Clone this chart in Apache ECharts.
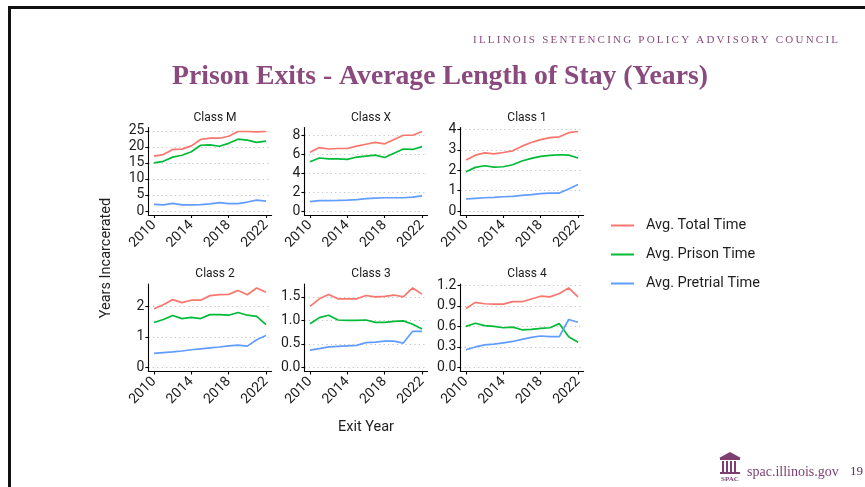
<!DOCTYPE html>
<html><head><meta charset="utf-8">
<script src="https://cdn.jsdelivr.net/npm/echarts@6/dist/echarts.min.js"></script>
<style>html,body{margin:0;padding:0;background:#fff}#c{width:865px;height:487px}</style>
</head><body><div id="c"></div>
<script>
// ---------- data ----------
const years = [2010,2011,2012,2013,2014,2015,2016,2017,2018,2019,2020,2021,2022];
const panelNames = ['Class M','Class X','Class 1','Class 2','Class 3','Class 4'];
const seriesNames = ['Avg. Total Time','Avg. Prison Time','Avg. Pretrial Time'];
const xTicks = [2010,2014,2018,2022];

const classM_total    = [17.1,17.6,19.2,19.3,20.3,22.3,22.7,22.7,23.3,24.8,24.8,24.7,24.8];
const classM_prison   = [15.0,15.5,16.8,17.4,18.5,20.5,20.6,20.2,21.1,22.4,22.1,21.4,21.8];
const classM_pretrial = [2.1,1.9,2.4,1.9,1.9,2.0,2.2,2.6,2.3,2.3,2.8,3.4,3.1];

const classX_total    = [6.2,6.7,6.55,6.6,6.6,6.85,7.05,7.25,7.1,7.55,8.0,8.0,8.4];
const classX_prison   = [5.2,5.6,5.5,5.5,5.45,5.7,5.8,5.9,5.65,6.1,6.55,6.5,6.8];
const classX_pretrial = [1.0,1.1,1.1,1.12,1.15,1.2,1.3,1.37,1.4,1.4,1.4,1.47,1.6];

const class1_total    = [2.5,2.74,2.85,2.8,2.87,2.95,3.18,3.36,3.5,3.6,3.64,3.84,3.9];
const class1_prison   = [1.93,2.14,2.22,2.15,2.17,2.27,2.45,2.58,2.68,2.73,2.76,2.74,2.6];
const class1_pretrial = [0.59,0.62,0.65,0.67,0.70,0.72,0.77,0.80,0.85,0.88,0.88,1.08,1.3];

const class2_total    = [1.92,2.05,2.22,2.12,2.2,2.2,2.35,2.38,2.39,2.52,2.38,2.6,2.46];
const class2_prison   = [1.47,1.57,1.7,1.6,1.64,1.6,1.73,1.73,1.71,1.8,1.71,1.67,1.4];
const class2_pretrial = [0.46,0.49,0.51,0.54,0.58,0.61,0.64,0.67,0.71,0.73,0.70,0.91,1.05];

const class3_total    = [1.3,1.46,1.55,1.46,1.46,1.46,1.53,1.5,1.51,1.54,1.5,1.69,1.56];
const class3_prison   = [0.93,1.06,1.11,1.01,1.0,1.0,1.01,0.96,0.96,0.98,0.99,0.92,0.82];
const class3_pretrial = [0.37,0.4,0.44,0.45,0.46,0.47,0.53,0.54,0.56,0.56,0.52,0.77,0.77];

const class4_total    = [0.86,0.95,0.93,0.925,0.925,0.96,0.96,1.0,1.04,1.03,1.08,1.16,1.03];
const class4_prison   = [0.6,0.645,0.61,0.6,0.58,0.59,0.55,0.555,0.57,0.58,0.64,0.45,0.37];
const class4_pretrial = [0.26,0.3,0.33,0.34,0.36,0.38,0.41,0.44,0.46,0.45,0.45,0.70,0.66];

const yTicksM = [0,5,10,15,20,25];
const yTicksX = [0,2,4,6,8];
const yTicks1 = [0,1,2,3,4];
const yTicks2 = [0,1,2];
const yTicks3 = [0,0.5,1.0,1.5];
const yTicks4 = [0,0.3,0.6,0.9,1.2];
const yDecimals = [0,0,0,0,1,1];

// ---------- assembly ----------
const panelData = [
  [classM_total, classM_prison, classM_pretrial],
  [classX_total, classX_prison, classX_pretrial],
  [class1_total, class1_prison, class1_pretrial],
  [class2_total, class2_prison, class2_pretrial],
  [class3_total, class3_prison, class3_pretrial],
  [class4_total, class4_prison, class4_pretrial]
];
const panelTicks = [yTicksM, yTicksX, yTicks1, yTicks2, yTicks3, yTicks4];
const colors = ['#F8766D','#00BA38','#619CFF'];

const colLeft = [148.4, 304.4, 460.4];
const rowTop = [127.5, 284];
const pW = 123.2, pH = 87.5;
const tickFont = {fontFamily:'Roboto', fontSize:14, color:'#1e1e1e'};

const grid = [], xAxis = [], yAxis = [], series = [], title = [];
panelData.forEach((sets, i) => {
  const c = i % 3, r = Math.floor(i / 3);
  grid.push({left: colLeft[c], top: rowTop[r], width: pW, height: pH, containLabel:false, outerBoundsMode:'none'});
  const xpad = (years[years.length-1] - years[0]) * 0.05;
  xAxis.push({
    type:'value', gridIndex:i, min: years[0]-xpad, max: years[years.length-1]+xpad,
    axisLine:{show:true, onZero:false, lineStyle:{color:'#000', width:1.1}},
    axisTick:{show:true, length:3, customValues:xTicks, lineStyle:{color:'#000', width:1.1}},
    axisLabel:{show:true, customValues:xTicks, rotate:45, margin:8, ...tickFont, formatter: v => String(v)},
    splitLine:{show:false}
  });
  let hi = 0;
  sets.forEach(s => s.forEach(v => { if (v > hi) hi = v; }));
  const ypad = hi * 0.05;
  const dec = yDecimals[i];
  yAxis.push({
    type:'value', gridIndex:i, min: -ypad, max: hi + ypad,
    axisLine:{show:true, onZero:false, lineStyle:{color:'#000', width:1.1}},
    axisTick:{show:true, length:3, customValues:panelTicks[i], lineStyle:{color:'#000', width:1.1}},
    axisLabel:{show:true, customValues:panelTicks[i], margin:4, ...tickFont, formatter: v => Number(v).toFixed(dec)},
    splitLine:{show:true, lineStyle:{color:'#c4c4c4', type:[1.2,3.2], width:1.1}}
  });
  sets.forEach((s, k) => {
    series.push({
      type:'line', name: seriesNames[k], xAxisIndex:i, yAxisIndex:i,
      data: years.map((y, j) => [y, s[j]]),
      showSymbol:false, symbol:'none', silent:true,
      lineStyle:{color: colors[k], width:1.7}, itemStyle:{color: colors[k]},
      z: 3
    });
  });
  title.push({
    text: panelNames[i], left: colLeft[c] + pW/2, top: rowTop[r] - 21, textAlign:'center',
    textStyle:{fontFamily:'Roboto', fontSize:12, fontWeight:'normal', color:'#1a1a1a'}
  });
});

// ---------- decorations ----------
const purple = '#8a4a7e';
function measure(str, font) {
  const ctx = document.createElement('canvas').getContext('2d');
  ctx.font = font;
  return ctx.measureText(str).width;
}
function spacedText(str, font, leftX, rightX, y, color) {
  const chars = [...str];
  const widths = chars.map(ch => measure(ch, font));
  const sum = widths.reduce((a,b)=>a+b, 0);
  const sp = (rightX - leftX - sum) / (chars.length - 1);
  let x = leftX;
  const out = [];
  chars.forEach((ch, i) => {
    out.push({type:'text', x: x, y: y, silent:true,
      style:{text: ch, font: font, fill: color, align:'left', verticalAlign:'middle', textAlign:'left', textVerticalAlign:'middle'}});
    x += widths[i] + sp;
  });
  return out;
}
const headerFont = '11px "Liberation Serif"';
const titleFont = 'bold 27px "Liberation Serif"';
const titleStr = 'Prison Exits - Average Length of Stay (Years)';
const titleScale = 536 / measure(titleStr, titleFont);

const graphic = [
  {type:'rect', shape:{x:8, y:6, width:857, height:3}, style:{fill:'#111'}, silent:true},
  {type:'rect', shape:{x:8, y:6, width:3, height:481}, style:{fill:'#111'}, silent:true},
  ...spacedText('ILLINOIS SENTENCING POLICY ADVISORY COUNCIL', headerFont, 473, 838, 40, purple),
  {type:'text', x:172, y:77, scaleX: titleScale, silent:true,
    style:{text: titleStr, font: titleFont, fill: purple, align:'left', verticalAlign:'middle', textAlign:'left', textVerticalAlign:'middle'}},
  {type:'text', x:106, y:258, rotation: Math.PI/2, silent:true,
    style:{text:'Years Incarcerated', font:'14.5px Roboto', fill:'#1e1e1e', align:'center', verticalAlign:'middle', textAlign:'center', textVerticalAlign:'middle'}},
  {type:'text', x:366, y:427, silent:true,
    style:{text:'Exit Year', font:'14.5px Roboto', fill:'#1e1e1e', align:'center', verticalAlign:'middle', textAlign:'center', textVerticalAlign:'middle'}},
  // footer icon
  {type:'polygon', shape:{points:[[719,458],[730,452],[741,458]]}, style:{fill:'#7d3f72'}, silent:true},
  {type:'rect', shape:{x:720, y:458, width:20, height:2}, style:{fill:'#7d3f72'}, silent:true},
  {type:'rect', shape:{x:722, y:461, width:2, height:11}, style:{fill:'#7d3f72'}, silent:true},
  {type:'rect', shape:{x:726, y:461, width:2, height:11}, style:{fill:'#7d3f72'}, silent:true},
  {type:'rect', shape:{x:730, y:461, width:2, height:11}, style:{fill:'#7d3f72'}, silent:true},
  {type:'rect', shape:{x:734, y:461, width:2, height:11}, style:{fill:'#7d3f72'}, silent:true},
  {type:'rect', shape:{x:720, y:472, width:20, height:2}, style:{fill:'#7d3f72'}, silent:true},
  {type:'text', x:730, y:479, silent:true,
    style:{text:'SPAC', font:'bold 7px "Liberation Serif"', fill:'#7d3f72', align:'center', verticalAlign:'middle', textAlign:'center', textVerticalAlign:'middle'}},
  {type:'text', x:747, y:472, silent:true,
    style:{text:'spac.illinois.gov', font:'14px "Liberation Serif"', fill:'#7d3f72', align:'left', verticalAlign:'middle', textAlign:'left', textVerticalAlign:'middle'}},
  {type:'text', x:850, y:472, silent:true,
    style:{text:'19', font:'13px "Liberation Serif"', fill:'#5b3556', align:'left', verticalAlign:'middle', textAlign:'left', textVerticalAlign:'middle'}}
];

const chart = echarts.init(document.getElementById('c'), null, {renderer:'canvas'});
chart.setOption({
  animation:false,
  backgroundColor:'#fff',
  title, grid, xAxis, yAxis, series, graphic,
  legend:{
    orient:'vertical', left:606, top:213, itemWidth:23, itemHeight:2, itemGap:14, icon:'rect',
    selectedMode:false,
    data: seriesNames,
    textStyle:{fontFamily:'Roboto', fontSize:14.5, color:'#1e1e1e', padding:[0,0,0,7]}
  }
});
</script></body></html>
